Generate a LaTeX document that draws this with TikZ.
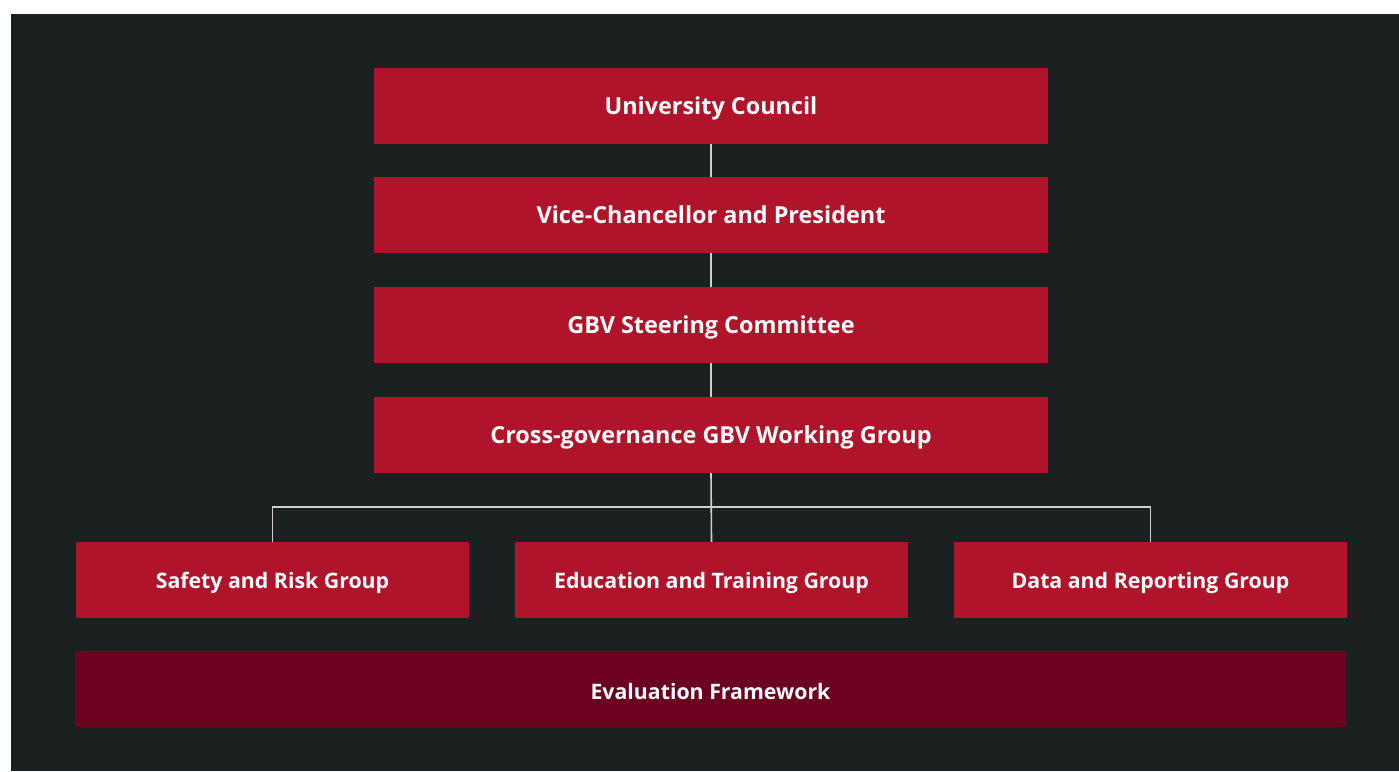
\documentclass[tikz,border=0pt]{standalone}
\usepackage{fontspec}
\setmainfont{Open Sans}
\definecolor{bgdark}{HTML}{1A2120}
\definecolor{boxred}{HTML}{AF142B}
\definecolor{boxwine}{HTML}{6B0020}
\definecolor{linkgray}{HTML}{CFCFCF}
\begin{document}
\begin{tikzpicture}[x=1pt,y=-1pt,
  box/.style={fill=boxred,draw=none,text=white,inner sep=0pt,
    minimum height=76pt,text height=16.6pt,text depth=0pt,
    font=\bfseries\fontsize{23.4}{28}\selectfont},
  wide/.style={minimum width=674pt},
  subbox/.style={box,minimum width=393pt,text height=17.2pt,font=\bfseries\fontsize{21.3}{25}\selectfont},
  evalbox/.style={box,fill=boxwine,minimum width=1271pt,text height=20.6pt,font=\bfseries\fontsize{21.3}{25}\selectfont},
  link/.style={draw=linkgray,line width=1.6pt}]
% page and background
\useasboundingbox (0,0) rectangle (1399,771);
\fill[white] (0,0) rectangle (1399,771);
\fill[bgdark] (11,14) rectangle (1399,771);
% governance chain
\node[box,wide] (council) at (711,106) {University Council};
\node[box,wide] (vc) at (711,215) {Vice-Chancellor and President};
\node[box,wide] (steer) at (711,325) {GBV Steering Committee};
\node[box,wide] (work) at (711,435) {Cross-governance GBV Working Group};
% working groups
\node[subbox] (safety) at (272.5,580) {Safety and Risk Group};
\node[subbox] (edu) at (711.5,580) {Education and Training Group};
\node[subbox] (data) at (1150.5,580) {Data and Reporting Group};
% evaluation
\node[evalbox] (eval) at (710.5,689) {Evaluation Framework};
% connectors
\coordinate (split) at (711,507);
\draw[link] (council.south) -- (vc.north);
\draw[link] (vc.south) -- (steer.north);
\draw[link] (steer.south) -- (work.north);
\draw[link] (work.south) -- (edu.north);
\draw[link] (safety.north) |- (split) -| (data.north);
\end{tikzpicture}
\end{document}
